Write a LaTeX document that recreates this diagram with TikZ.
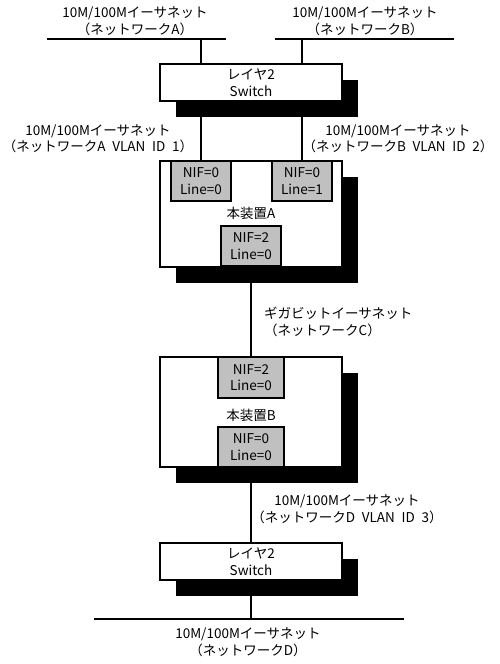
\documentclass[tikz,border=0pt]{standalone}
\usepackage{fontspec}
\setmainfont{Noto Sans CJK JP}
\usetikzlibrary{shadows}
\definecolor{nifgray}{RGB}{192,192,192}

\begin{document}
\begin{tikzpicture}[x=1pt, y=-1pt, font=\fontsize{13.5pt}{16.5pt}\selectfont, line join=miter,
	box/.style={draw, line width=1.6pt, fill=white, minimum width=182pt, align=center, inner sep=0pt,
		drop shadow={shadow xshift=16pt, shadow yshift=-16pt, fill=black, opacity=1}},
	nif/.style={draw, line width=1.6pt, fill=nifgray, minimum width=60pt, minimum height=40pt, align=center, inner sep=0pt},
	lbl/.style={align=center, inner sep=0pt},
	wire/.style={line width=1.6pt}]
	\useasboundingbox (0,0) rectangle (499,664);
	\def\bx{251} % Mitte der Geraete
	% Netze
	\coordinate (busAw) at (47,39); \coordinate (busAe) at (226,39);
	\coordinate (busBw) at (275,39); \coordinate (busBe) at (454,39);
	\coordinate (busDw) at (94,619); \coordinate (busDe) at (404,619);
	\draw[wire] (busAw)--(busAe);
	\draw[wire] (busBw)--(busBe);
	\draw[wire] (busDw)--(busDe);
	% Geraete
	\node[box, minimum height=37pt] (sw1) at (\bx,82.5) {レイヤ2\\Switch};
	\node[box, minimum height=106pt] (devA) at (\bx,214) {};
	\node (nameA) at (\bx,213) {本装置A};
	\node[nif] (nifA0) at (201,181) {NIF=0\\Line=0};
	\node[nif] (nifA1) at (302,181) {NIF=0\\Line=1};
	\node[nif] (nifA2) at (\bx,246) {NIF=2\\Line=0};
	\node[box, minimum height=110pt] (devB) at (\bx,412) {};
	\node (nameB) at (\bx,415) {本装置B};
	\node[nif, minimum width=66pt, minimum height=41pt] (nifB2) at (\bx,377.5) {NIF=2\\Line=0};
	\node[nif, minimum width=66pt] (nifB0) at (\bx,447) {NIF=0\\Line=0};
	\node[box, minimum height=37pt] (sw2) at (\bx,561.5) {レイヤ2\\Switch};
	% Leitungen
	\draw[wire] (nifA0.north |- busAw)--(nifA0.north |- sw1.north);
	\draw[wire] (nifA0.north |- sw1.south)--(nifA0.north);
	\draw[wire] (nifA1.north |- busBw)--(nifA1.north |- sw1.north);
	\draw[wire] (nifA1.north |- sw1.south)--(nifA1.north);
	\draw[wire] (nifA2.south)--(nifB2.north);
	\draw[wire] (nifB0.south)--(sw2.north);
	\draw[wire] (sw2.south)--(sw2.south |- busDw);
	% Beschriftungen
	\node[lbl] (lblA) at (135,21) {10M/100Mイーサネット\\（ネットワークA）};
	\node[lbl] (lblB) at (365,21) {10M/100Mイーサネット\\（ネットワークB）};
	\node[lbl] (lblA1) at (98,138.5) {10M/100Mイーサネット\\（ネットワークA\enspace VLAN\enspace ID\enspace 1）};
	\node[lbl] (lblB2) at (398,138.5) {10M/100Mイーサネット\\（ネットワークB\enspace VLAN\enspace ID\enspace 2）};
	\node[lbl, align=left, anchor=west] (lblC) at (264,322) {ギガビットイーサネット\\（ネットワークC）};
	\node[lbl] (lblD3) at (347,509) {10M/100Mイーサネット\\（ネットワークD\enspace VLAN\enspace ID\enspace 3）};
	\node[lbl] (lblD) at (248,642) {10M/100Mイーサネット\\（ネットワークD）};
\end{tikzpicture}
\end{document}
